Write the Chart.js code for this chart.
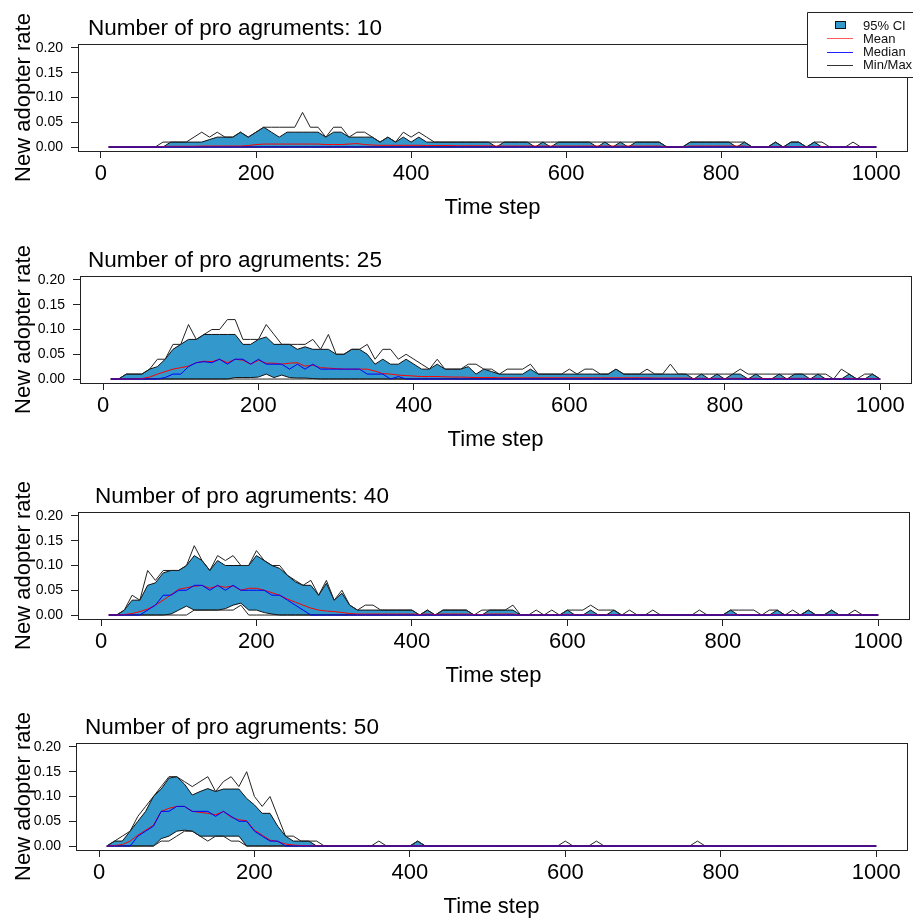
<!DOCTYPE html>
<html>
<head>
<meta charset="utf-8">
<script src="https://cdn.jsdelivr.net/npm/chart.js@4.4.1/dist/chart.umd.min.js"></script>
<style>
  html, body { margin: 0; padding: 0; background: #fff; width: 913px; height: 921px; overflow: hidden; }
  canvas { position: absolute; left: 0; }
</style>
</head>
<body>
<canvas id="panel0" width="913" height="232" style="top:0px"></canvas>
<canvas id="panel1" width="913" height="232" style="top:232px"></canvas>
<canvas id="panel2" width="913" height="232" style="top:468px"></canvas>
<canvas id="panel3" width="913" height="232" style="top:699px"></canvas>
<script>
// time steps (x) and axis ticks
const steps = [10,20,30,40,50,60,70,80,90,100,110,120,130,140,150,160,170,180,190,200,
  210,220,230,240,250,260,270,280,290,300,310,320,330,340,350,360,370,380,390,400,
  410,420,430,440,450,460,470,480,490,500,510,520,530,540,550,560,570,580,590,600,
  610,620,630,640,650,660,670,680,690,700,710,720,730,740,750,760,770,780,790,800,
  810,820,830,840,850,860,870,880,890,900,910,920,930,940,950,960,970,980,990,1000];
const xTicks = [0, 200, 400, 600, 800, 1000];
const yTicks = [0, 0.05, 0.10, 0.15, 0.20];
const argCounts = [10, 25, 40, 50];

// all series below are new adopter rates in percent (0.01 = 1)
// --- 10 pro arguments ---
const max10 = [0,0,0,0,0,0,0,1,1,1, 1,2,3,2,3,2,2,3,2,3, 4,4,4,4,4,7,4,4,2,4, 4,2,3,3,2,1,2,1,3,2,
  3,2,1,1,1,1,1,1,1,1, 1,1,1,1,1,1,1,1,1,1, 1,1,1,1,1,1,1,1,1,1, 1,1,0,0,0,1,1,1,1,1,
  1,1,1,0,0,0,1,0,1,1, 0,1,1,0,0,0,1,0,0,0];
const hi10 = [0,0,0,0,0,0,0,0,1,1, 1,1,1,1.5,2,2,2,3,2,3, 4,3,2,3,3,3,3,3,2,3, 3,2,2,2,2,1,2,1,2,1,
  2,1,1,1,1,1,1,1,1,1, 0,1,1,1,1,0,1,0,1,1, 1,1,1,0,1,0,1,0,1,1, 1,1,0,0,0,1,1,1,1,1,
  1,0,1,0,0,0,1,0,1,1, 0,1,0,0,0,0,0,0,0,0];
const lo10 = [0,0,0,0,0,0,0,0,0,0, 0,0,0,0,0,0,0,0,0,0, 0,0,0,0,0,0,0,0,0,0, 0,0,0,0,0,0,0,0,0,0,
  0,0,0,0,0,0,0,0,0,0, 0,0,0,0,0,0,0,0,0,0, 0,0,0,0,0,0,0,0,0,0, 0,0,0,0,0,0,0,0,0,0,
  0,0,0,0,0,0,0,0,0,0, 0,0,0,0,0,0,0,0,0,0];
const min10 = lo10;
const mean10 = [0,0,0,0,0,0,0,0.1,0.15,0.15, 0.15,0.15,0.2,0.2,0.2,0.2,0.2,0.2,0.3,0.5,
  0.6,0.6,0.6,0.6,0.6,0.6,0.6,0.6,0.5,0.5, 0.5,0.6,0.7,0.5,0.4,0.35,0.35,0.35,0.35,0.35,
  0.35,0.3,0.3,0.3,0.3,0.25,0.25,0.25,0.25,0.25, 0.2,0.2,0.2,0.2,0.2,0.2,0.2,0.2,0.2,0.2,
  0.2,0.2,0.2,0.2,0.2,0.2,0.2,0.2,0.2,0.2, 0.2,0.2,0,0,0,0.2,0.2,0.2,0.2,0.2,
  0.2,0.2,0.2,0,0,0,0.1,0,0.1,0.1, 0,0.1,0.1,0,0,0,0.05,0,0,0];
const med10 = lo10;

// --- 25 pro arguments ---
const max25 = [0,0,1,1,1,2,4,4,7,7, 11,8,9,10,10,12,12,8,8,8, 11,9,7,7,7,7,8,6,9,5, 5,6,6,7,4,6,6,4,5,4,
  3,2,4,2,2,2,3,3,2,2, 1,2,2,2,3,1,1,1,1,2, 1,2,2,1,1,2,1,1,1,2, 1,1,3,1,1,1,1,1,1,1,
  1,2,1,1,1,1,1,1,1,1, 1,1,1,0,2,1,0,1,1,0];
const hi25 = [0,0,1,1,1,2,2.5,4,6,7, 8,8,9,9,9,9,9,7,7,8, 8.5,7,7,7,6,6.5,6,6,6,5, 5,6,6,5,3,4,3,3,4,3,
  2,2,3,2,2,2,2.5,1,2,1.5, 1,1,1,1,2,1,1,1,1,1, 1,1,1,1,1,2,1,1,1,1, 1,1,1,1,1,0,1,0,1,0,
  1,1,0,1,0,0,1,0,1,1, 0,1,0,0,0,1,0,0,1,0];
const lo25 = [0,0,0,0,0,0,0,0,0,0, 0,0,0,0,0,0,0.3,0.3,0.3,0.4, 1,0.3,0.8,0.3,0.2,0.2,0.1,0,0,0,
  0,0,0,0,0,0,0,0,0,0, 0,0,0,0,0,0,0,0,0,0, 0,0,0,0,0,0,0,0,0,0, 0,0,0,0,0,0,0,0,0,0,
  0,0,0,0,0,0,0,0,0,0, 0,0,0,0,0,0,0,0,0,0, 0,0,0,0,0,0,0,0,0,0];
const min25 = lo10;
const mean25 = [0,0,0,0,0.1,0.4,1,1.5,2,2.3, 2.6,3.3,3.6,3.5,4,3.3,4,3.8,3,3.8,
  3.2,3.2,3,3.2,3.3,2.6,2.8,2.3,2.2,2.1, 2,2,2,2,1.6,1.1,1,0.8,0.7,0.6,
  0.5,0.5,0.5,0.45,0.4,0.4,0.35,0.3,0.3,0.3, 0.25,0.25,0.25,0.25,0.25,0.25,0.25,0.25,0.25,0.25,
  0.25,0.25,0.25,0.25,0.25,0.25,0.25,0.25,0.25,0.25, 0.2,0.2,0.2,0.2,0.2,0.1,0.15,0.1,0.15,0.1,
  0.15,0.15,0.1,0.15,0.1,0.1,0.15,0.1,0.15,0.15, 0.1,0.15,0.05,0,0.05,0.15,0,0.05,0.15,0];
const med25 = [0,0,0,0,0,0,0,0.3,1,1, 2.5,3.3,3.5,3.3,4,3,4,4,3,4, 3,3,3,2,3,2,3,2,2,2,
  2,2,2,1,1,1,0,0.5,0,0, 0,0,0,0,0,0,0,0,0,0, 0,0,0,0,0,0,0,0,0,0, 0,0,0,0,0,0,0,0,0,0,
  0,0,0,0,0,0,0,0,0,0, 0,0,0,0,0,0,0,0,0,0, 0,0,0,0,0,0,0,0,0,0];

// --- 40 pro arguments ---
const max40 = [0,0,1,4,3,9,7,9,9,9, 10,14,11,9,12,11,12,10,10,13, 11,10,10,8,7,6,7,4,7,3, 5,2,1,2,2,1,1,1,1,1,
  0,1,0,1,1,1,1,0,1,1, 1,1,2,0,0,1,0,1,0,1, 1,1,2,1,1,1,0,1,0,0, 1,0,0,0,0,0,1,0,0,0,
  1,1,1,1,0,1,1,0,1,0, 1,0,0,1,0,0,1,0,0,0];
const hi40 = [0,0,1,3,3,6,6.5,8.5,9,9, 10,12,11,9,11,10,10,10,10,12, 11,10,9.4,8,6.7,6,6,4,6.4,3,
  4.4,2,1,1,1,1,1,1,1,1, 0,1,0,1,1,1,1,0,0,1, 1,1,1,0,0,0,0,0,0,1, 0,0,1,0,0,1,0,0,0,0,
  0,0,0,0,0,0,0,0,0,0, 1,0,0,0,0,0,1,0,0,0, 1,0,0,1,0,0,0,0,0,0];
const lo40 = [0,0,0,0,0,0,0,0,0.2,1, 1.8,1,1,1,1,1.3,2,2.4,1,1, 0.5,0.2,0,0,0,0,0,0,0,0,
  0,0,0,0,0,0,0,0,0,0, 0,0,0,0,0,0,0,0,0,0, 0,0,0,0,0,0,0,0,0,0, 0,0,0,0,0,0,0,0,0,0,
  0,0,0,0,0,0,0,0,0,0, 0,0,0,0,0,0,0,0,0,0, 0,0,0,0,0,0,0,0,0,0];
const min40 = [0,0,0,0,0,0,0,0,0,0, 0,1,1,1,1,1,1,2,0,0, 0,0,0,0,0,0,0,0,0,0,
  0,0,0,0,0,0,0,0,0,0, 0,0,0,0,0,0,0,0,0,0, 0,0,0,0,0,0,0,0,0,0, 0,0,0,0,0,0,0,0,0,0,
  0,0,0,0,0,0,0,0,0,0, 0,0,0,0,0,0,0,0,0,0, 0,0,0,0,0,0,0,0,0,0];
const mean40 = [0,0,0.1,0.3,0.7,1.2,2,3,4.1,5.2, 5.5,5.8,6,5.4,5.9,5.6,5.9,5,5.4,5.4,
  5,4.5,4,3.2,2.6,2,1.4,1,0.8,0.7, 0.5,0.3,0.2,0.2,0.2,0.2,0.2,0.2,0.2,0.2,
  0.1,0.2,0.1,0.2,0.2,0.2,0.2,0.1,0.1,0.2, 0.2,0.2,0.2,0,0,0.05,0,0.05,0,0.15,
  0.05,0.05,0.15,0.05,0.05,0.1,0,0.05,0,0, 0.05,0,0,0,0,0,0.05,0,0,0,
  0.1,0.05,0.05,0.05,0,0.05,0.1,0,0.05,0, 0.1,0,0,0.1,0,0,0.05,0,0,0];
const med40 = [0,0,0,0,0,1,2,4,4,5, 5,6,6,5,6,5,6,5,5,5, 5,4,4,3,2,1,0,0,0,0,
  0,0,0,0,0,0,0,0,0,0, 0,0,0,0,0,0,0,0,0,0, 0,0,0,0,0,0,0,0,0,0, 0,0,0,0,0,0,0,0,0,0,
  0,0,0,0,0,0,0,0,0,0, 0,0,0,0,0,0,0,0,0,0, 0,0,0,0,0,0,0,0,0,0];

// --- 50 pro arguments ---
const max50 = [0,1,2,3,6,8,10,12,14,14, 13,12,13,14,11,13,14,12,15,10, 8,10,6,2,2,1,1,1,0,0,
  0,0,0,0,0,1,0,0,0,0, 1,0,0,0,0,0,0,0,0,0, 0,0,0,0,0,0,0,0,0,1, 0,0,0,1,0,0,0,0,0,0,
  0,0,0,0,0,0,1,0,0,0, 0,0,0,0,0,0,0,0,0,0, 0,0,0,0,0,0,0,0,0,0];
const hi50 = [0,1,1,3,5,7,10,11.5,13.7,14, 12.5,10.3,11,11.6,11,11.5,11.5,11.5,9.6,8.3,
  6.6,6.6,4,2,1,1,1,0,0,0, 0,0,0,0,0,0,0,0,0,0, 1,0,0,0,0,0,0,0,0,0,
  0,0,0,0,0,0,0,0,0,0, 0,0,0,0,0,0,0,0,0,0, 0,0,0,0,0,0,0,0,0,0,
  0,0,0,0,0,0,0,0,0,0, 0,0,0,0,0,0,0,0,0,0];
const lo50 = [0,0,0,0,0,0,0,1.5,2,3, 3.2,3,2,2,2,2,2,2,0,0, 0,0,0,0,0,0,0,0,0,0,
  0,0,0,0,0,0,0,0,0,0, 0,0,0,0,0,0,0,0,0,0, 0,0,0,0,0,0,0,0,0,0, 0,0,0,0,0,0,0,0,0,0,
  0,0,0,0,0,0,0,0,0,0, 0,0,0,0,0,0,0,0,0,0, 0,0,0,0,0,0,0,0,0,0];
const min50 = [0,0,0,0,0,0,0,1,1,2, 3,3,2,1,2,2,1,1,0,0, 0,0,0,0,0,0,0,0,0,0,
  0,0,0,0,0,0,0,0,0,0, 0,0,0,0,0,0,0,0,0,0, 0,0,0,0,0,0,0,0,0,0, 0,0,0,0,0,0,0,0,0,0,
  0,0,0,0,0,0,0,0,0,0, 0,0,0,0,0,0,0,0,0,0, 0,0,0,0,0,0,0,0,0,0];
const mean50 = [0,0.1,0.3,1,2.2,3.2,4.2,7,7.6,8, 8,7,6.8,6.6,6.3,7,5.8,5.3,5.1,3.2,
  2.2,1.2,0.9,0.4,0.2,0.1,0.05,0.05,0.02,0, 0,0,0,0,0,0.02,0,0,0,0,
  0.03,0,0,0,0,0,0,0,0,0, 0,0,0,0,0,0,0,0,0,0.02, 0,0,0,0.02,0,0,0,0,0,0,
  0,0,0,0,0,0,0.02,0,0,0, 0,0,0,0,0,0,0,0,0,0, 0,0,0,0,0,0,0,0,0,0];
const med50 = [0,0,0,0,2,3,4,7,7,8, 8,7,7,7,6,7,6,5,5,3, 2,1,1,0,0,0,0,0,0,0,
  0,0,0,0,0,0,0,0,0,0, 0,0,0,0,0,0,0,0,0,0, 0,0,0,0,0,0,0,0,0,0, 0,0,0,0,0,0,0,0,0,0,
  0,0,0,0,0,0,0,0,0,0, 0,0,0,0,0,0,0,0,0,0, 0,0,0,0,0,0,0,0,0,0];

const PCT = 0.01;
const CI_FILL = '#3399cc';

const panels = [
  { n: argCounts[0], hi: hi10, lo: lo10, min: min10, max: max10, mean: mean10, med: med10 },
  { n: argCounts[1], hi: hi25, lo: lo25, min: min25, max: max25, mean: mean25, med: med25 },
  { n: argCounts[2], hi: hi40, lo: lo40, min: min40, max: max40, mean: mean40, med: med40 },
  { n: argCounts[3], hi: hi50, lo: lo50, min: min50, max: max50, mean: mean50, med: med50 }
];
// plot box position per panel (px inside its canvas)
const boxes = [
  { left: 78, right: 907, titleX: 88 },
  { left: 80, right: 911, titleX: 88 },
  { left: 78, right: 909, titleX: 95 },
  { left: 76, right: 907, titleX: 85 }
];

Chart.defaults.font.family = '"Liberation Sans", Arial, sans-serif';
Chart.defaults.color = '#000';

const pts = arr => steps.map((t, i) => ({ x: t, y: arr[i] * PCT }));

const framePlugin = {
  id: 'frame',
  afterDatasetsDraw(chart, args, opts) {
    const { ctx, chartArea: a } = chart;
    ctx.save();
    ctx.strokeStyle = '#222';
    ctx.lineWidth = 1;
    ctx.strokeRect(Math.round(a.left) + 0.5, Math.round(a.top) + 0.5,
      Math.round(a.right - a.left), Math.round(a.bottom - a.top));
    ctx.fillStyle = '#000';
    ctx.font = '22.5px "Liberation Sans", Arial, sans-serif';
    ctx.textBaseline = 'alphabetic';
    ctx.textAlign = 'left';
    ctx.fillText(opts.text, opts.x, opts.y);
    ctx.restore();
  }
};

const legendPlugin = {
  id: 'boxLegend',
  afterDraw(chart, args, opts) {
    if (!opts.show) return;
    const ctx = chart.ctx;
    ctx.save();
    ctx.fillStyle = '#fff';
    ctx.fillRect(807, 12, 110, 66);
    ctx.strokeStyle = '#222';
    ctx.lineWidth = 1;
    ctx.beginPath();
    ctx.moveTo(920, 12.5); ctx.lineTo(807.5, 12.5); ctx.lineTo(807.5, 77.5); ctx.lineTo(920, 77.5);
    ctx.stroke();
    ctx.font = '13px "Liberation Sans", Arial, sans-serif';
    ctx.textBaseline = 'middle';
    ctx.textAlign = 'left';
    const items = [
      { label: '95% CI', kind: 'box', color: CI_FILL },
      { label: 'Mean', kind: 'line', color: '#ff5a5a' },
      { label: 'Median', kind: 'line', color: '#1f1fff' },
      { label: 'Min/Max', kind: 'line', color: '#333' }
    ];
    items.forEach((it, i) => {
      const y = 25 + i * 13.3;
      if (it.kind === 'box') {
        ctx.fillStyle = it.color;
        ctx.fillRect(835.5, y - 3.5, 10, 7);
        ctx.strokeStyle = '#111';
        ctx.strokeRect(835.5, y - 3.5, 10, 7);
      } else {
        ctx.strokeStyle = it.color;
        ctx.beginPath();
        ctx.moveTo(827, Math.round(y) + 0.5);
        ctx.lineTo(853, Math.round(y) + 0.5);
        ctx.stroke();
      }
      ctx.fillStyle = '#111';
      ctx.fillText(it.label, 863, y + 1);
    });
    ctx.restore();
  }
};

panels.forEach((p, k) => {
  const b = boxes[k];
  const line = (data, color, order) => ({
    data: pts(data), borderColor: color, borderWidth: 1, pointRadius: 0,
    fill: false, tension: 0, order
  });
  new Chart(document.getElementById('panel' + k), {
    type: 'line',
    data: {
      datasets: [
        { data: pts(p.hi), borderColor: '#111', borderWidth: 1, backgroundColor: CI_FILL,
          pointRadius: 0, fill: '+1', tension: 0, order: 6 },
        line(p.lo, '#111', 5),
        line(p.min, '#222', 4),
        line(p.max, '#222', 3),
        line(p.mean, '#ff0000', 2),
        line(p.med, '#0000ff', 1)
      ]
    },
    options: {
      responsive: false,
      animation: false,
      devicePixelRatio: 1,
      layout: { padding: { left: 0, right: 913 - b.right, top: 44, bottom: 0 } },
      plugins: {
        legend: { display: false },
        tooltip: { enabled: false },
        frame: { text: 'Number of pro agruments: ' + p.n, x: b.titleX, y: 35 },
        boxLegend: { show: k === 0 }
      },
      scales: {
        x: {
          type: 'linear', min: -29.6, max: 1039.6,
          afterBuildTicks: s => { s.ticks = xTicks.map(v => ({ value: v })); },
          afterFit: s => { s.height = 81; },
          ticks: { font: { size: 22 }, padding: 3, maxRotation: 0, color: '#000', callback: v => String(v) },
          grid: { drawOnChartArea: false, drawTicks: true, tickLength: 7, color: '#222' },
          border: { display: false },
          title: { display: true, text: 'Time step', font: { size: 22 }, padding: { top: 0, bottom: 11 }, color: '#000' }
        },
        y: {
          min: -0.008, max: 0.208,
          afterBuildTicks: s => { s.ticks = yTicks.map(v => ({ value: v })); },
          afterFit: s => { s.width = b.left; },
          ticks: { font: { size: 14 }, padding: 8, callback: v => v.toFixed(2), color: '#000' },
          grid: { drawOnChartArea: false, drawTicks: true, tickLength: 7, color: '#222' },
          border: { display: false },
          title: { display: true, text: 'New adopter rate', font: { size: 22 }, padding: { top: 11, bottom: 0 }, color: '#000' }
        }
      }
    },
    plugins: [framePlugin, legendPlugin]
  });
});
</script>
</body>
</html>
